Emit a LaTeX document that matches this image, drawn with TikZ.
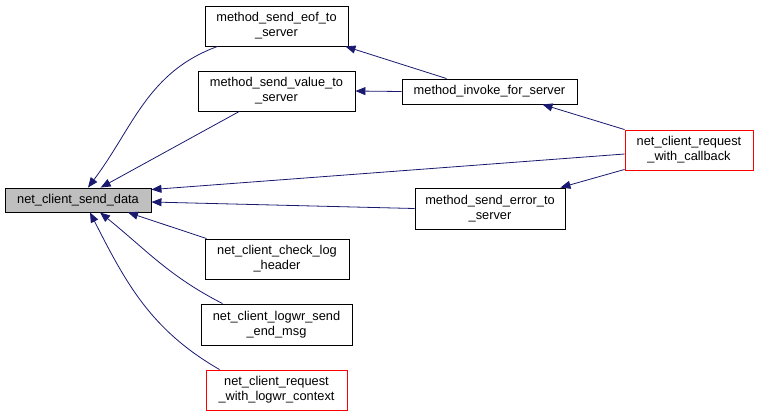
\documentclass[tikz,border=0pt]{standalone}
\usepackage{fontspec}
\setmainfont{Liberation Sans}
\usetikzlibrary{arrows.meta}
\definecolor{edgeblue}{HTML}{191970}
\definecolor{sdgray}{HTML}{BFBFBF}
\begin{document}
\begin{tikzpicture}[x=1pt,y=1pt,
  box/.style={draw=black,line width=0.9pt,fill=white,inner sep=0pt,align=center,
    font=\fontsize{12.8}{15}\selectfont},
  redbox/.style={box,draw=red},
  e/.style={draw=edgeblue,line width=0.8pt,{Triangle[length=10pt,width=8pt]}-}]
\useasboundingbox (0,0) rectangle (759,-416);
\node[box,fill=sdgray,minimum width=146pt,minimum height=24pt] (sd) at (78,-200) {net\_client\_send\_data};
\node[box,minimum width=143pt,minimum height=40pt] (eof) at (276.5,-26) {method\_send\_eof\_to\\\_server};
\node[box,minimum width=157pt,minimum height=40pt] (val) at (276.5,-91) {method\_send\_value\_to\\\_server};
\node[box,minimum width=175pt,minimum height=25pt] (inv) at (489.5,-91.5) {method\_invoke\_for\_server};
\node[redbox,minimum width=128pt,minimum height=40pt] (cb) at (689,-150) {net\_client\_request\\\_with\_callback};
\node[box,minimum width=150pt,minimum height=41pt] (err) at (490,-208.5) {method\_send\_error\_to\\\_server};
\node[box,minimum width=144pt,minimum height=40pt] (clh) at (277,-259) {net\_client\_check\_log\\\_header};
\node[box,minimum width=151pt,minimum height=41pt] (lend) at (276.5,-324.5) {net\_client\_logwr\_send\\\_end\_msg};
\node[redbox,minimum width=141pt,minimum height=40pt] (ctx) at (276.5,-390) {net\_client\_request\\\_with\_logwr\_context};

\draw[e] ([xshift=10pt]sd.north) to[out=53,in=200] ([xshift=13pt]eof.south west);
\draw[e] (sd) -- (val);
\draw[e] ([yshift=-2pt]sd.north east) -- ([yshift=-4pt]cb.west);
\draw[e] ([yshift=-2pt]sd.east) -- (err.west);
\draw[e] ([xshift=50pt]sd.south) -- ([xshift=2pt]clh.north west);
\draw[e] ([xshift=22pt]sd.south) to[out=-39,in=153] ([xshift=22pt]lend.north west);
\draw[e] ([xshift=12pt]sd.south) to[out=-63,in=150] ([xshift=14pt]ctx.north west);
\draw[e] ([xshift=-3pt]eof.south east) -- ([xshift=45pt]inv.north west);
\draw[e] (val.east) -- (inv.west);
\draw[e] ([xshift=-35pt]inv.south east) -- (cb.north west);
\draw[e] ([xshift=-5pt]err.north east) -- ([yshift=1pt]cb.south west);
\end{tikzpicture}
\end{document}
